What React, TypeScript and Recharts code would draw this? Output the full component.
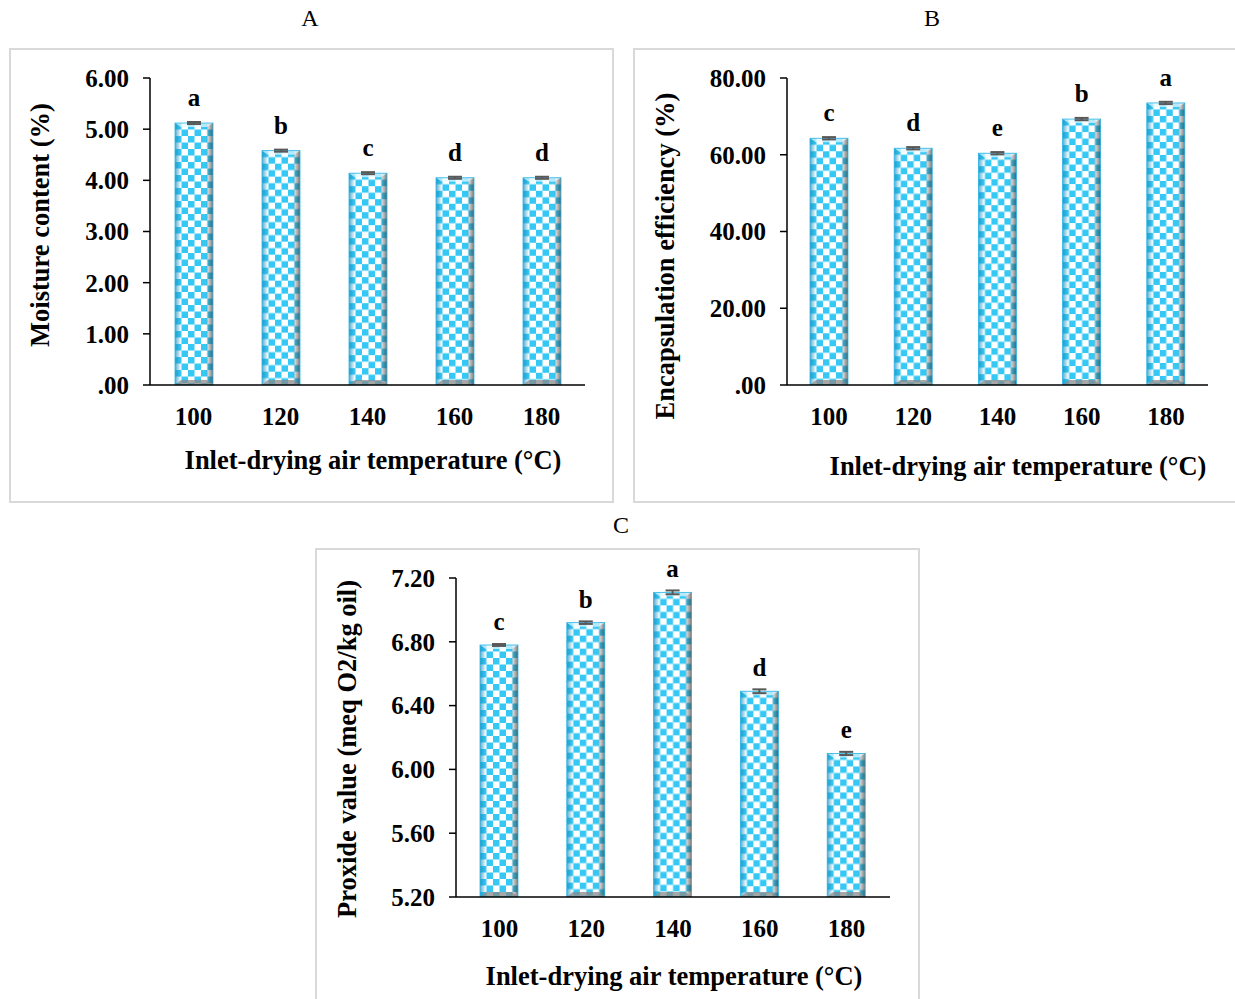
import React from 'react';
import { BarChart, Bar, XAxis, YAxis, ErrorBar, LabelList, Label } from 'recharts';

const FONT = "'Times New Roman', 'Liberation Serif', serif";

// Shared categories
const categories = ['100', '120', '140', '160', '180'];

// Panel A: Moisture content (%)
const moistureValues = [5.12, 4.58, 4.14, 4.05, 4.05];
const moistureErrors = [0.02, 0.02, 0.02, 0.02, 0.02];
const moistureLetters = ['a', 'b', 'c', 'd', 'd'];
const moistureTicks = [0, 1, 2, 3, 4, 5, 6];

// Panel B: Encapsulation efficiency (%)
const encapValues = [64.3, 61.7, 60.4, 69.3, 73.5];
const encapErrors = [0.3, 0.3, 0.3, 0.3, 0.3];
const encapLetters = ['c', 'd', 'e', 'b', 'a'];
const encapTicks = [0, 20, 40, 60, 80];

// Panel C: Proxide value (meq O2/kg oil)
const peroxValues = [6.78, 6.92, 7.11, 6.49, 6.1];
const peroxErrors = [0.006, 0.008, 0.012, 0.012, 0.01];
const peroxLetters = ['c', 'b', 'a', 'd', 'e'];
const peroxTicks = [5.2, 5.6, 6.0, 6.4, 6.8, 7.2];

const boundaryTicks = [0, 1, 2, 3, 4, 5];

const build = (vals: number[], errs: number[], letters: string[]) =>
  categories.map((c, i) => ({ cat: c, value: vals[i], err: errs[i], letter: letters[i] }));

const fmt = (v: number) => (v === 0 ? '.00' : v.toFixed(2));

const CheckerBar = (props: any) => {
  const { x, y, width, height, index, pid } = props;
  if (width == null || height == null || height <= 0) return null;
  const id = `chk-${pid}-${index}`;
  const s = 6.5;
  const e = 6;
  return (
    <g>
      <defs>
        <pattern id={id} patternUnits="userSpaceOnUse" x={x} y={y} width={s * 2} height={s * 2}>
          <rect x={0} y={0} width={s * 2} height={s * 2} fill="#ffffff" />
          <rect x={0} y={0} width={s} height={s} fill="#36c8f4" />
          <rect x={s} y={s} width={s} height={s} fill="#36c8f4" />
        </pattern>
        <linearGradient id={`${id}-l`} x1="0" y1="0" x2="1" y2="0">
          <stop offset="0" stopColor="#1a8fbf" stopOpacity={0.75} />
          <stop offset="1" stopColor="#1a8fbf" stopOpacity={0} />
        </linearGradient>
        <linearGradient id={`${id}-r`} x1="0" y1="0" x2="1" y2="0">
          <stop offset="0" stopColor="#404040" stopOpacity={0} />
          <stop offset="1" stopColor="#404040" stopOpacity={0.7} />
        </linearGradient>
      </defs>
      <rect x={x} y={y} width={width} height={height} fill={`url(#${id})`} />
      <rect x={x} y={y} width={e} height={height} fill={`url(#${id}-l)`} />
      <rect x={x + width - e - 1} y={y} width={e + 1} height={height} fill={`url(#${id}-r)`} />
      <polygon
        points={`${x},${y} ${x + width},${y} ${x + width - e},${y + 4} ${x + e},${y + 4}`}
        fill="#e8f8ff"
        fillOpacity={0.7}
      />
      <polygon
        points={`${x + e},${y + height - 5} ${x + width - e},${y + height - 5} ${x + width},${y + height} ${x},${y + height}`}
        fill="#8a8a8a"
        fillOpacity={0.75}
      />
      <rect x={x} y={y} width={width} height={height} fill="none" stroke="#2bb5e6" strokeWidth={0.8} />
    </g>
  );
};

type PanelProps = {
  pid: string;
  left: number;
  top: number;
  width: number;
  height: number;
  margin: { top: number; right: number; bottom: number; left: number };
  data: any[];
  domain: [number, number];
  ticks: number[];
  yTitle: string;
  yTitlePos: [number, number];
  xTitlePos: [number, number];
  letterOffset: number;
};

const TICK_FS = 25;
const TITLE_FS = 26.5;

const Panel = (p: PanelProps) => {
  const tickStyle = { fontFamily: FONT, fontSize: TICK_FS, fontWeight: 'bold', fill: '#000' };
  return (
    <div
      style={{
        position: 'absolute',
        left: p.left,
        top: p.top,
        width: p.width,
        height: p.height,
        boxSizing: 'border-box',
        border: '2px solid #d9d9d9',
        background: '#fff',
      }}
    >
      <div style={{ position: 'absolute', left: -2, top: -2 }}>
        <BarChart width={p.width} height={p.height} data={p.data} margin={p.margin} barSize={38}>
          <XAxis
            xAxisId="bound"
            type="number"
            domain={[0, 5]}
            ticks={boundaryTicks}
            tick={false}
            axisLine={false}
            tickLine={{ stroke: '#000', strokeWidth: 1.5 }}
            tickSize={8}
            height={0}
            allowDataOverflow
          />
          <XAxis
            xAxisId="cat"
            dataKey="cat"
            tick={tickStyle}
            tickLine={false}
            axisLine={{ stroke: '#000', strokeWidth: 1.5 }}
            tickSize={8}
            tickMargin={14}
            height={60}
          >
            <Label
              content={() => (
                <text
                  x={p.xTitlePos[0]}
                  y={p.xTitlePos[1]}
                  textAnchor="middle"
                  dominantBaseline="central"
                  style={{ fontFamily: FONT, fontSize: TITLE_FS, fontWeight: 'bold', fill: '#000' }}
                >
                  Inlet-drying air temperature (°C)
                </text>
              )}
            />
          </XAxis>
          <YAxis
            domain={p.domain}
            ticks={p.ticks}
            tickFormatter={fmt}
            tick={tickStyle}
            tickLine={{ stroke: '#000', strokeWidth: 1.5 }}
            axisLine={{ stroke: '#000', strokeWidth: 1.5 }}
            tickSize={7}
            tickMargin={14}
            width={100}
            interval={0}
            allowDataOverflow
          >
            <Label
              content={() => (
                <text
                  x={p.yTitlePos[0]}
                  y={p.yTitlePos[1]}
                  textAnchor="middle"
                  dominantBaseline="central"
                  transform={`rotate(-90 ${p.yTitlePos[0]} ${p.yTitlePos[1]})`}
                  style={{ fontFamily: FONT, fontSize: TITLE_FS, fontWeight: 'bold', fill: '#000' }}
                >
                  {p.yTitle}
                </text>
              )}
            />
          </YAxis>
          <Bar
            xAxisId="cat"
            dataKey="value"
            isAnimationActive={false}
            shape={(sp: any) => <CheckerBar {...sp} pid={p.pid} />}
          >
            <ErrorBar dataKey="err" width={7} stroke="#595959" strokeWidth={2} direction="y" />
            <LabelList
              dataKey="letter"
              position="top"
              offset={p.letterOffset}
              style={{ fontFamily: FONT, fontSize: TICK_FS, fontWeight: 'bold', fill: '#000' }}
            />
          </Bar>
        </BarChart>
      </div>
    </div>
  );
};

const titleStyle: React.CSSProperties = {
  position: 'absolute',
  fontFamily: FONT,
  fontSize: 24,
  color: '#000',
  width: 40,
  textAlign: 'center',
  lineHeight: '24px',
};

export default function App() {
  return (
    <div style={{ position: 'absolute', left: 0, top: 0, width: 1235, height: 999, overflow: 'hidden', background: '#fff' }}>
      <div style={{ ...titleStyle, left: 290, top: 6 }}>A</div>
      <div style={{ ...titleStyle, left: 912, top: 6 }}>B</div>
      <div style={{ ...titleStyle, left: 601, top: 513 }}>C</div>
      <Panel
        pid="A"
        left={9}
        top={48}
        width={605}
        height={455}
        margin={{ top: 30, right: 29, bottom: 58, left: 41 }}
        data={build(moistureValues, moistureErrors, moistureLetters)}
        domain={[0, 6]}
        ticks={moistureTicks}
        yTitle="Moisture content (%)"
        yTitlePos={[31, 177]}
        xTitlePos={[364, 412]}
        letterOffset={17}
      />
      <Panel
        pid="B"
        left={633}
        top={48}
        width={604}
        height={455}
        margin={{ top: 30, right: 29, bottom: 58, left: 54 }}
        data={build(encapValues, encapErrors, encapLetters)}
        domain={[0, 80]}
        ticks={encapTicks}
        yTitle="Encapsulation efficiency (%)"
        yTitlePos={[32, 208]}
        xTitlePos={[385, 418]}
        letterOffset={17}
      />
      <Panel
        pid="C"
        left={315}
        top={548}
        width={605}
        height={455}
        margin={{ top: 30, right: 30, bottom: 46, left: 41 }}
        data={build(peroxValues, peroxErrors, peroxLetters)}
        domain={[5.2, 7.2]}
        ticks={peroxTicks}
        yTitle="Proxide value (meq O2/kg oil)"
        yTitlePos={[32, 201]}
        xTitlePos={[359, 428]}
        letterOffset={15}
      />
    </div>
  );
}
